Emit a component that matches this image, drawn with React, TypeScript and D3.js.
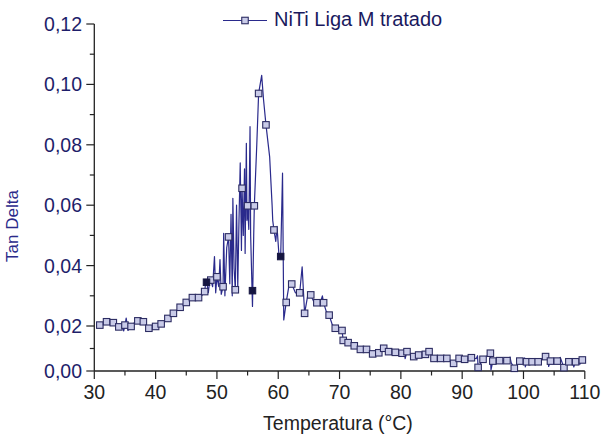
import React from "react";
import * as d3 from "d3";

const seriesName = "NiTi Liga M tratado";
const xTitle = "Temperatura (°C)";
const yTitle = "Tan Delta";

const xMajorTicks = [30, 40, 50, 60, 70, 80, 90, 100, 110];
const xMinorTicks = [35, 45, 55, 65, 75, 85, 95, 105];
const yMajorTicks = [0, 0.02, 0.04, 0.06, 0.08, 0.1, 0.12];
const yMinorTicks = [0.01, 0.03, 0.05, 0.07, 0.09, 0.11];

// [temperature °C, tan delta]
const curve: [number, number][] = [
  [30.9, 0.0203], [31.5, 0.0208], [32.0, 0.0214], [32.5, 0.0218], [33.1, 0.0211], [33.6, 0.0205],
  [34.0, 0.0196], [34.5, 0.0203], [34.8, 0.0178], [35.0, 0.0203], [35.2, 0.0226], [35.5, 0.018],
  [36.0, 0.0198], [36.5, 0.021], [37.1, 0.0217], [37.5, 0.0213], [38.0, 0.0214], [38.5, 0.02],
  [38.9, 0.019], [39.5, 0.0192], [40.0, 0.0198], [40.5, 0.0202], [40.9, 0.0207], [41.5, 0.0215],
  [42.0, 0.0225], [42.5, 0.0233], [42.9, 0.0242], [43.5, 0.0252], [44.0, 0.0262], [44.5, 0.027],
  [45.0, 0.0278], [45.5, 0.0287], [46.0, 0.0294], [46.5, 0.0293], [47.0, 0.0294], [47.5, 0.03],
  [48.0, 0.0314], [48.2, 0.035], [48.4, 0.034], [48.6, 0.031], [48.8, 0.0345], [49.0, 0.0352],
  [49.3, 0.033], [49.6, 0.043], [49.8, 0.031], [50.0, 0.0363], [50.3, 0.033], [50.5, 0.042],
  [50.7, 0.0305], [51.0, 0.033], [51.1, 0.0507], [51.3, 0.03], [51.6, 0.046], [51.9, 0.0495],
  [52.1, 0.034], [52.3, 0.057], [52.5, 0.03], [52.6, 0.0623], [52.8, 0.039], [53.0, 0.032],
  [53.2, 0.06], [53.4, 0.033], [53.6, 0.055], [53.8, 0.074], [54.0, 0.045], [54.1, 0.0656],
  [54.3, 0.05], [54.5, 0.072], [54.6, 0.044], [54.8, 0.0805], [54.9, 0.055], [55.0, 0.0598],
  [55.2, 0.052], [55.4, 0.086], [55.5, 0.05], [55.8, 0.0265], [56.0, 0.05], [56.1, 0.0598],
  [56.5, 0.08], [56.8, 0.097], [57.3, 0.103], [57.6, 0.095], [58.0, 0.0866], [58.6, 0.076],
  [59.0, 0.06], [59.1, 0.055], [59.3, 0.0518], [59.6, 0.048], [59.8, 0.053], [60.1, 0.044],
  [60.4, 0.043], [60.7, 0.0706], [60.9, 0.022], [61.3, 0.0278], [61.8, 0.034], [62.2, 0.0339],
  [62.8, 0.031], [63.5, 0.031], [63.9, 0.0396], [64.3, 0.0242], [64.8, 0.03], [65.3, 0.0303],
  [65.8, 0.028], [66.3, 0.0277], [66.9, 0.028], [67.2, 0.03], [67.4, 0.0277], [67.8, 0.025],
  [68.3, 0.0236], [68.8, 0.0205], [69.3, 0.019], [69.9, 0.0182], [70.4, 0.018], [70.6, 0.0136],
  [71.4, 0.0126], [72.4, 0.0112], [73.4, 0.0096], [74.4, 0.0096], [75.4, 0.0076], [76.4, 0.0081],
  [77.2, 0.0101], [78.0, 0.0086], [79.1, 0.0083], [80.2, 0.0079], [80.5, 0.0095], [80.7, 0.0055],
  [81.0, 0.0086], [82.1, 0.0064], [82.9, 0.0071], [84.0, 0.0074], [84.6, 0.0086], [85.4, 0.0056],
  [86.5, 0.0056], [87.5, 0.0056], [88.6, 0.0034], [89.5, 0.0056], [90.4, 0.0052], [91.5, 0.0059],
  [92.3, 0.0055], [92.5, 0.0068], [92.6, 0.0016], [93.4, 0.0052], [94.6, 0.0079], [94.7, 0.0005],
  [95.0, 0.0044], [96.1, 0.0046], [97.3, 0.0046], [97.8, 0.0062], [98.0, 0.0036], [98.5, 0.0012],
  [99.4, 0.0044], [100.2, 0.0058], [100.3, 0.0018], [100.5, 0.0041], [101.4, 0.0041], [102.4, 0.0041],
  [103.6, 0.0064], [104.0, 0.0068], [104.1, 0.002], [104.4, 0.0044], [105.5, 0.0044], [106.0, 0.006],
  [106.6, 0.0015], [107.4, 0.0041], [108.0, 0.0055], [108.2, 0.0018], [108.5, 0.0041], [109.2, 0.003],
  [109.6, 0.0049], [109.9, 0.0058],
];

// open square symbols drawn on the curve
const symbols: [number, number][] = [
  [30.9, 0.0203], [32.0, 0.0214], [33.1, 0.0211], [34.0, 0.0196], [35.0, 0.0203], [36.0, 0.0198],
  [37.1, 0.0217], [38.0, 0.0214], [38.9, 0.019], [40.0, 0.0198], [40.9, 0.0207], [42.0, 0.0225],
  [42.9, 0.0242], [44.0, 0.0262], [45.0, 0.0278], [46.0, 0.0294], [47.0, 0.0294], [48.0, 0.0314],
  [49.0, 0.0352], [50.0, 0.0363], [51.0, 0.033], [51.9, 0.0495], [53.0, 0.032], [54.1, 0.0656],
  [55.0, 0.0598], [56.1, 0.0598], [56.8, 0.097], [58.0, 0.0866], [59.3, 0.0518], [61.3, 0.0278],
  [62.2, 0.0339], [63.5, 0.031], [64.3, 0.0242], [65.3, 0.0303], [66.3, 0.0277], [67.4, 0.0277],
  [68.3, 0.0236], [69.3, 0.019], [70.4, 0.018], [70.6, 0.0136], [71.4, 0.0126], [72.4, 0.0112],
  [73.4, 0.0096], [74.4, 0.0096], [75.4, 0.0076], [76.4, 0.0081], [77.2, 0.0101], [78.0, 0.0086],
  [79.1, 0.0083], [80.2, 0.0079], [81.0, 0.0086], [82.1, 0.0064], [82.9, 0.0071], [84.0, 0.0074],
  [84.6, 0.0086], [85.4, 0.0056], [86.5, 0.0056], [87.5, 0.0056], [88.6, 0.0034], [89.5, 0.0056],
  [90.4, 0.0052], [91.5, 0.0059], [92.6, 0.0016], [93.4, 0.0052], [94.6, 0.0079], [95.0, 0.0044],
  [96.1, 0.0046], [97.3, 0.0046], [98.5, 0.0012], [99.4, 0.0044], [100.5, 0.0041], [101.4, 0.0041],
  [102.4, 0.0041], [103.6, 0.0064], [104.4, 0.0044], [105.5, 0.0044], [106.6, 0.0015], [107.4, 0.0041],
  [108.5, 0.0041], [109.6, 0.0049],
];

// symbols that appear filled (overdrawn) in the original
const filledSymbols: [number, number][] = [
  [48.3, 0.0345], [55.8, 0.0317], [60.4, 0.043],
];

const FONT = "'Liberation Sans', Arial, Helvetica, sans-serif";
const LINE_COLOR = "#2a2a8c";
const SYM_STROKE = "#2c2c62";
const SYM_FILL = "#c9cbe8";
const AXIS_COLOR = "#222";

export default function App() {
  const x = d3.scaleLinear().domain([30, 110]).range([94.3, 584.8]);
  const y = d3.scaleLinear().domain([0, 0.02, 0.12]).range([371, 326, 24]);
  const line = d3
    .line<[number, number]>()
    .x((d) => x(d[0]))
    .y((d) => y(d[1]));
  const fmt = (v: number) => d3.format(".2f")(v).replace(".", ",");
  const s = 6.5;

  const x0 = x(30);
  const y0 = y(0);

  return (
    <div style={{ position: "absolute", left: 0, top: 0 }}>
      <svg width={603} height={436} style={{ display: "block", background: "#fff" }} fontFamily={FONT}>
        {/* axes */}
        <line x1={x0} x2={x0} y1={y(0.12)} y2={y0} stroke={AXIS_COLOR} strokeWidth={1.3} />
        <line x1={x0} x2={x(110)} y1={y0} y2={y0} stroke={AXIS_COLOR} strokeWidth={1.3} />
        {yMajorTicks.map((t) => (
          <g key={"ym" + t}>
            <line x1={x0 - 8} x2={x0} y1={y(t)} y2={y(t)} stroke={AXIS_COLOR} strokeWidth={1.2} />
            <text x={82} y={y(t)} dy="0.36em" textAnchor="end" fontSize={19.5} fill="#1e1e6a">
              {fmt(t)}
            </text>
          </g>
        ))}
        {yMinorTicks.map((t) => (
          <line key={"yn" + t} x1={x0 - 4.5} x2={x0} y1={y(t)} y2={y(t)} stroke={AXIS_COLOR} strokeWidth={1.2} />
        ))}
        {xMajorTicks.map((t) => (
          <g key={"xm" + t}>
            <line x1={x(t)} x2={x(t)} y1={y0} y2={y0 + 8} stroke={AXIS_COLOR} strokeWidth={1.2} />
            <text x={x(t)} y={399} textAnchor="middle" fontSize={19.5} fill="#222">
              {t}
            </text>
          </g>
        ))}
        {xMinorTicks.map((t) => (
          <line key={"xn" + t} x1={x(t)} x2={x(t)} y1={y0} y2={y0 + 4.5} stroke={AXIS_COLOR} strokeWidth={1.2} />
        ))}

        {/* titles */}
        <text x={338} y={430} textAnchor="middle" fontSize={19.5} fill="#222">
          {xTitle}
        </text>
        <text
          transform={`translate(18,226) rotate(-90)`}
          textAnchor="middle"
          fontSize={17}
          fill="#2a2a8a"
        >
          {yTitle}
        </text>

        {/* data */}
        <path d={line(curve) || ""} fill="none" stroke={LINE_COLOR} strokeWidth={1.2} strokeLinejoin="round" />
        {symbols.map((d, i) => (
          <rect
            key={"s" + i}
            x={x(d[0]) - s / 2}
            y={y(d[1]) - s / 2}
            width={s}
            height={s}
            fill={SYM_FILL}
            stroke={SYM_STROKE}
            strokeWidth={1.1}
          />
        ))}
        {filledSymbols.map((d, i) => (
          <rect
            key={"f" + i}
            x={x(d[0]) - s / 2}
            y={y(d[1]) - s / 2}
            width={s}
            height={s}
            fill="#151540"
            stroke="#151540"
            strokeWidth={1}
          />
        ))}

        {/* legend */}
        <line x1={223} x2={267} y1={20.5} y2={20.5} stroke={LINE_COLOR} strokeWidth={1.2} />
        <rect x={245 - s / 2} y={20.5 - s / 2} width={s} height={s} fill={SYM_FILL} stroke={SYM_STROKE} strokeWidth={1.1} />
        <text x={274} y={26} fontSize={20} fill="#1a1a5e">
          {seriesName}
        </text>
      </svg>
    </div>
  );
}
